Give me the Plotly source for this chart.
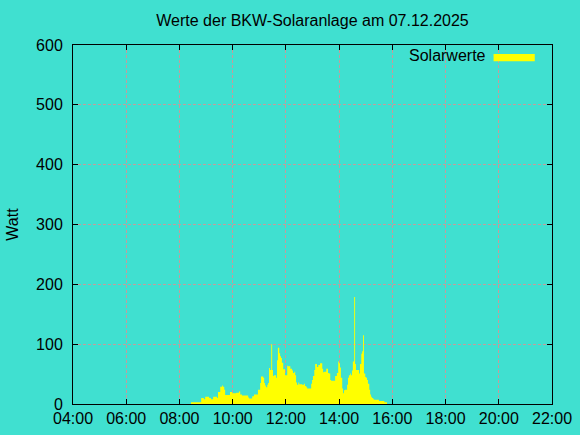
import plotly.graph_objects as go

DAY = "2025-12-07"

times = ["08:20","08:26","08:49","08:55","08:58","09:07","09:11","09:16","09:25","09:27",
         "09:32","09:36","09:38","09:41","09:43","09:54","09:59","10:08","10:14","10:17",
         "10:21","10:35","10:37","10:44","10:48","10:57","11:02","11:04","11:09","11:11",
         "11:13","11:15","11:18","11:20","11:22","11:24","11:27","11:29","11:31","11:33",
         "11:38","11:40","11:42","11:45","11:47","11:49","11:51","11:54","11:58","12:03",
         "12:05","12:10","12:14","12:16","12:19","12:21","12:23","12:25","12:28","12:30",
         "12:37","12:41","12:43","12:46","12:48","12:57","12:59","13:01","13:04","13:06",
         "13:10","13:13","13:17","13:22","13:24","13:26","13:31","13:35","13:37","13:40",
         "13:42","13:51","13:55","13:58","14:00","14:02","14:04","14:07","14:09","14:11",
         "14:13","14:18","14:20","14:22","14:25","14:27","14:29","14:31","14:34","14:36",
         "14:38","14:45","14:47","14:50","14:52","14:54","14:56","14:59","15:01","15:03",
         "15:05","15:08","15:10","15:12","15:14","15:17","15:19","15:30","15:42","15:48"]

watts = [0, 3, 10, 8, 12, 10, 8, 12, 10, 20,
         29, 31, 29, 24, 15, 20, 18, 19, 21, 16,
         14, 11, 9, 13, 16, 24, 35, 46, 44, 35,
         31, 28, 32, 35, 60, 57, 100, 57, 47, 48,
         44, 73, 94, 85, 80, 77, 69, 58, 48, 64,
         63, 59, 56, 52, 54, 48, 36, 32, 36, 33,
         32, 34, 30, 28, 26, 34, 40, 47, 57, 67,
         62, 65, 68, 59, 53, 54, 59, 52, 51, 40,
         39, 47, 52, 71, 68, 61, 44, 26, 18, 23,
         24, 32, 44, 48, 51, 48, 56, 71, 179, 67,
         57, 51, 67, 84, 88, 115, 51, 45, 44, 40,
         34, 24, 16, 12, 10, 8, 7, 5, 3, 0]

x_ticks = ["04:00","06:00","08:00","10:00","12:00","14:00","16:00","18:00","20:00","22:00"]
y_ticks = [0, 100, 200, 300, 400, 500, 600]

title_text = "Werte der BKW-Solaranlage am 07.12.2025"
series_name = "Solarwerte"
y_label = "Watt"

BG = "#40e0d0"
YELLOW = "#ffff00"
GRID = "#c49c9c"
FONT = "Liberation Sans, Arial, sans-serif"
FS = 16

xs = [f"{DAY} {t}" for t in times]

fig = go.Figure()
fig.add_trace(go.Scatter(
    x=xs, y=watts, mode="lines", line=dict(width=0, shape="hv", color=YELLOW),
    fill="tozeroy", fillcolor=YELLOW, name=series_name, showlegend=False,
))

axis_common = dict(
    showline=True, linecolor="black", linewidth=1, mirror="ticks",
    ticks="inside", ticklen=5, tickcolor="black", tickwidth=1,
    showgrid=True, gridcolor=GRID, gridwidth=1, griddash="3px,2px",
    zeroline=False, tickfont=dict(family=FONT, size=FS, color="black"),
)

fig.update_xaxes(
    type="date",
    range=[f"{DAY} {x_ticks[0]}", f"{DAY} {x_ticks[-1]}"],
    tickvals=[f"{DAY} {t}" for t in x_ticks], ticktext=x_ticks,
    ticklabelstandoff=0,
    **axis_common,
)
fig.update_yaxes(
    range=[y_ticks[0], y_ticks[-1]], tickvals=y_ticks,
    ticklabelstandoff=6,
    **axis_common,
)

fig.update_layout(
    width=580, height=435,
    margin=dict(l=73, r=28, t=45, b=31, autoexpand=False),
    paper_bgcolor=BG, plot_bgcolor=BG,
    font=dict(family=FONT, size=FS, color="black"),
    title=dict(text=title_text, x=0.5, xref="paper", y=1 - 20 / 435, yref="container",
               xanchor="center", yanchor="middle", font=dict(family=FONT, size=FS, color="black")),
    showlegend=False,
    annotations=[
        dict(text=y_label, xref="paper", yref="paper", x=-0.127, y=0.5, textangle=-90,
             showarrow=False, xanchor="center", yanchor="middle",
             font=dict(family=FONT, size=FS, color="black")),
        dict(text=series_name, xref="paper", yref="paper", x=0.866, y=0.972,
             showarrow=False, xanchor="right", yanchor="middle",
             font=dict(family=FONT, size=FS, color="black")),
    ],
    shapes=[
        dict(type="rect", xref="paper", yref="paper", x0=0.878, x1=0.964, y0=0.955, y1=0.975,
             fillcolor=YELLOW, line=dict(width=0)),
    ],
)

fig.write_html("out.html", config={"displayModeBar": False},
               post_script="document.body.style.margin='0px';document.body.style.background='#40e0d0';")
